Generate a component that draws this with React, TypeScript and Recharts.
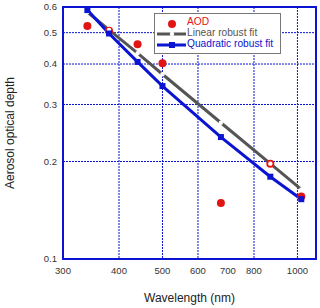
import { ComposedChart, Line, Scatter, XAxis, YAxis, CartesianGrid, ReferenceArea, Label } from 'recharts';

const wavelengths = [340, 380, 440, 500, 675, 870, 1020];
const aod = [0.524, 0.507, 0.46, 0.402, 0.149, 0.197, 0.156];
const linearFit = [0.579, 0.51, 0.432, 0.372, 0.2635, 0.197, 0.164];
const quadraticFit = [0.587, 0.497, 0.406, 0.342, 0.238, 0.1795, 0.153];
const xTicks = [300, 400, 500, 600, 700, 800, 900, 1000];
const yTicks = [0.1, 0.2, 0.3, 0.4, 0.5, 0.6];

const data = wavelengths.map((wl, i) => ({
    wl,
    aod: aod[i],
    lin: linearFit[i],
    quad: quadraticFit[i],
}));

const RED = '#e21515';
const GREY = '#555555';
const BLUE = '#0a14d2';
const font = '"Liberation Sans", Arial, sans-serif';

const SquareDot = (props: any) => {
    const { cx, cy } = props;
    if (cx == null || cy == null) return null;
    return <rect x={cx - 3} y={cy - 3} width={6} height={6} fill={BLUE} />;
};

const LegendBox = () => (
    <div style={{
        position: 'absolute', left: 154, top: 13, width: 125, height: 39,
        border: '1px solid #777', background: '#fff', fontFamily: font, fontSize: 10.2,
    }}>
        <svg width={32} height={39} style={{ position: 'absolute', left: 0, top: 0 }}>
            <circle cx={17} cy={10} r={4} fill={RED} />
            <line x1={2} x2={31} y1={20} y2={20} stroke={GREY} strokeWidth={3} />
            <circle cx={17} cy={20} r={2.2} fill="#fff" />
            <line x1={2} x2={31} y1={31} y2={31} stroke={BLUE} strokeWidth={3} />
            <rect x={14} y={28} width={6} height={6} fill={BLUE} />
        </svg>
        <div style={{ position: 'absolute', left: 32, top: 3, color: RED, lineHeight: '10.7px' }}>AOD</div>
        <div style={{ position: 'absolute', left: 32, top: 14, color: GREY, lineHeight: '10.7px' }}>Linear robust fit</div>
        <div style={{ position: 'absolute', left: 32, top: 25, color: BLUE, lineHeight: '10.7px' }}>Quadratic robust fit</div>
    </div>
);

const App = () => {
    return (
        <div style={{ position: 'absolute', left: 0, top: 0, width: 320, height: 308, background: '#fff' }}>
            <ComposedChart width={320} height={308} data={data} margin={{ top: 7, right: 4, bottom: 0, left: 0 }}>
                <CartesianGrid stroke={BLUE} strokeDasharray="2 1" strokeWidth={1} />
                <XAxis dataKey="wl" type="number" scale="log" domain={[300, 1100]} ticks={xTicks}
                    allowDataOverflow height={49} tickLine={false} axisLine={false} tickSize={4} tickMargin={4}
                    tick={{ fontSize: 9.5, fill: '#333', fontFamily: font }}>
                    <Label value="Wavelength (nm)" position="insideBottom" offset={6}
                        style={{ fontSize: 12, fill: '#222', fontFamily: font }} />
                </XAxis>
                <YAxis type="number" scale="log" domain={[0.1, 0.6]} ticks={yTicks}
                    allowDataOverflow width={63} tickLine={false} axisLine={false} tickSize={4} tickMargin={2}
                    tick={{ fontSize: 9.5, fill: '#333', fontFamily: font }}>
                    <Label value="Aerosol optical depth" angle={-90} position="insideLeft" offset={10}
                        style={{ fontSize: 12, fill: '#222', fontFamily: font, textAnchor: 'middle' }} />
                </YAxis>
                <ReferenceArea x1={300} x2={1100} y1={0.1} y2={0.6} fill="none" stroke={BLUE} strokeWidth={2} ifOverflow="visible" />
                <Scatter dataKey="aod" fill={RED} isAnimationActive={false}
                    shape={(p: any) => <circle cx={p.cx} cy={p.cy} r={4} fill={RED} />} />
                <Line dataKey="lin" stroke={GREY} strokeWidth={3} isAnimationActive={false}
                    dot={{ r: 2.2, fill: '#fff', stroke: 'none' }} activeDot={false} />
                <Line dataKey="quad" stroke={BLUE} strokeWidth={3} isAnimationActive={false}
                    dot={<SquareDot />} activeDot={false} />
            </ComposedChart>
            <LegendBox />
        </div>
    );
};

export default App;
